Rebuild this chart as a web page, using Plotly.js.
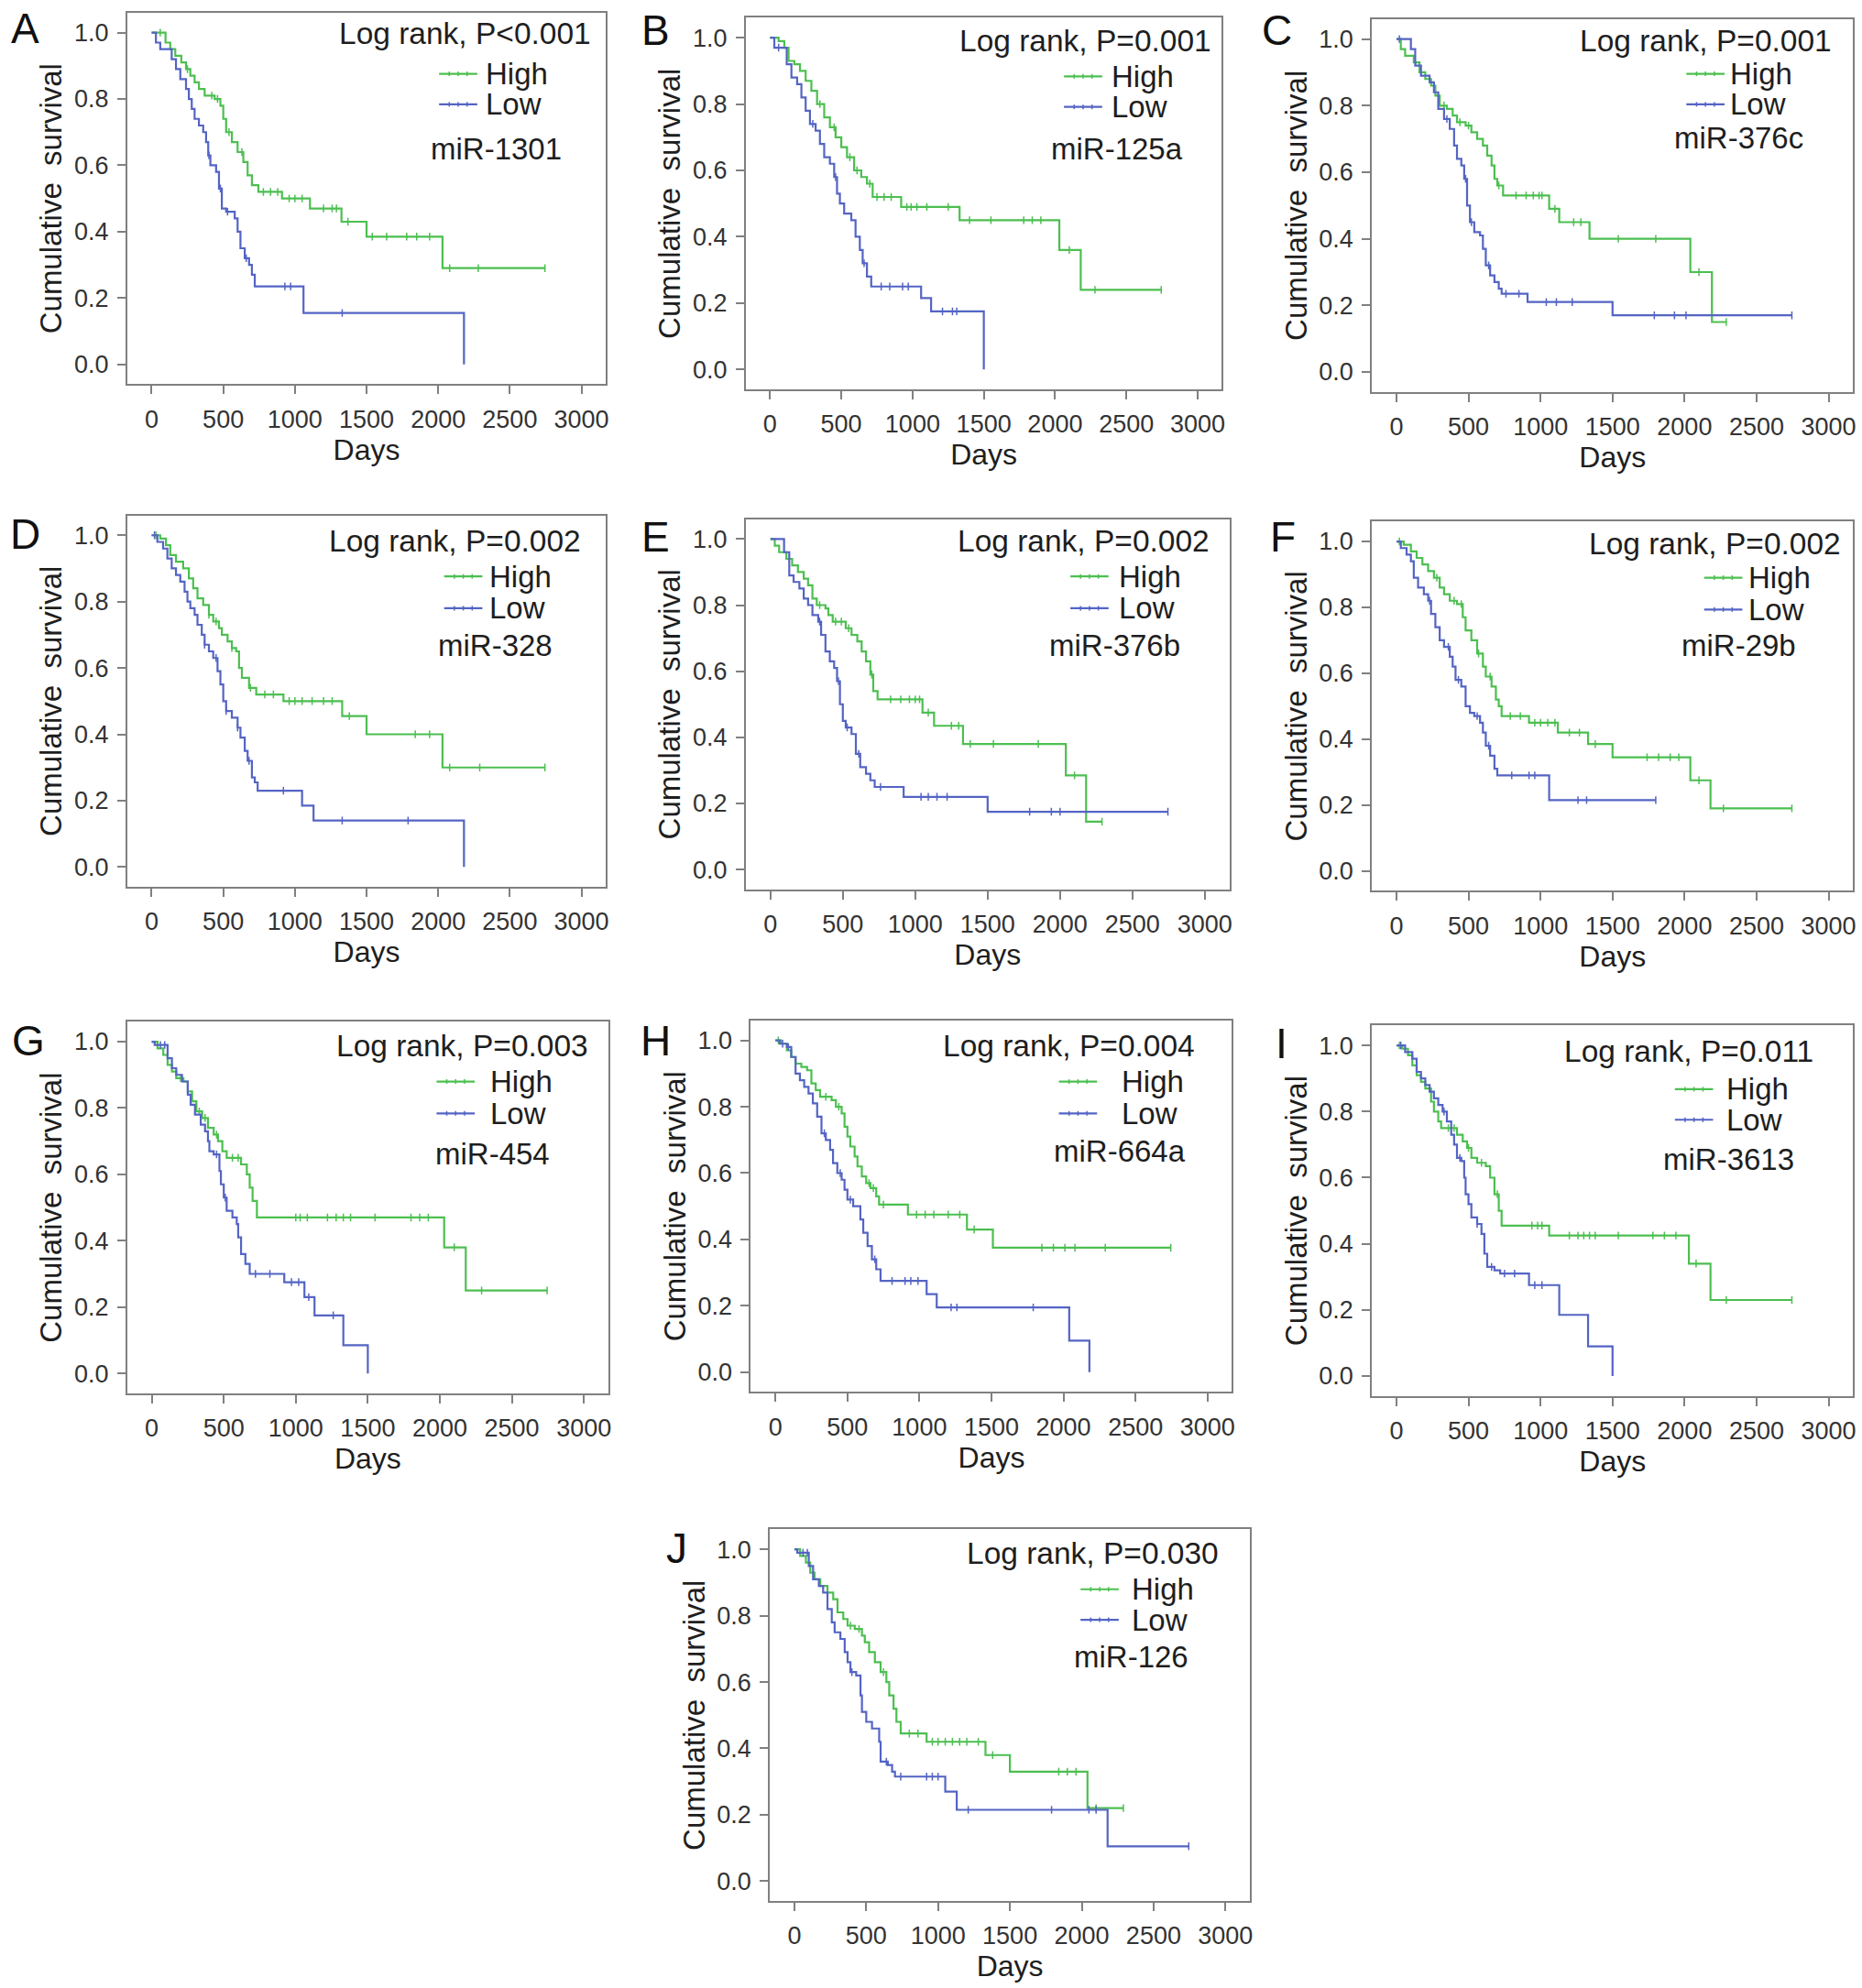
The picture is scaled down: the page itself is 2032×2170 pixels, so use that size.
<!DOCTYPE html>
<html>
<head>
<meta charset="utf-8">
<script src="https://cdn.plot.ly/plotly-3.0.1.min.js"></script>
<style>html,body{margin:0;padding:0;background:#fff;}#chart{width:2032px;height:2170px;}</style>
</head>
<body>
<div id="chart"></div>
<script>
// ---------------- DATA ----------------
const panelLetters = ['A','B','C','D','E','F','G','H','I','J'];
const pTexts = ['Log rank, P<0.001','Log rank, P=0.001','Log rank, P=0.001','Log rank, P=0.002','Log rank, P=0.002','Log rank, P=0.002','Log rank, P=0.003','Log rank, P=0.004','Log rank, P=0.011','Log rank, P=0.030'];
const mirNames = ['miR-1301','miR-125a','miR-376c','miR-328','miR-376b','miR-29b','miR-454','miR-664a','miR-3613','miR-126'];
const groupNames = ['High','Low'];
const xTickVals = [0,500,1000,1500,2000,2500,3000];
const yTickVals = [0.0,0.2,0.4,0.6,0.8,1.0];

// A: miR-1301
const A_high_t = [0,97,130,165,207,240,270,300,330,370,440,480,500,520,560,600,640,670,700,745,910,1105,1325,1500,2030,2745];
const A_high_s = [1,0.97,0.95,0.93,0.91,0.89,0.87,0.85,0.83,0.81,0.80,0.78,0.74,0.70,0.67,0.64,0.61,0.57,0.54,0.52,0.50,0.47,0.43,0.385,0.29,0.29];
const A_high_c = [60,250,420,460,540,630,780,830,880,960,1000,1050,1200,1260,1290,1370,1540,1640,1780,1850,1940,2080,2280,2745];
const A_low_t = [0,30,60,140,170,200,240,260,280,300,330,360,380,395,410,450,470,490,520,580,600,620,650,680,700,720,1060,2180];
const A_low_s = [1,0.97,0.95,0.92,0.89,0.86,0.83,0.80,0.77,0.74,0.72,0.70,0.67,0.63,0.60,0.58,0.53,0.47,0.46,0.44,0.40,0.35,0.32,0.30,0.27,0.235,0.155,0];
const A_low_c = [400,480,530,660,930,970,1330];

// B: miR-125a
const B_high_t = [0,60,100,130,170,210,250,290,330,380,420,460,500,540,590,640,680,720,920,1330,2030,2180,2745];
const B_high_s = [1,0.99,0.97,0.93,0.92,0.90,0.87,0.84,0.80,0.76,0.73,0.70,0.67,0.64,0.60,0.58,0.56,0.52,0.49,0.45,0.36,0.24,0.24];
const B_high_c = [350,450,560,610,700,750,800,850,960,990,1030,1100,1250,1400,1550,1780,1840,1900,2100,2280,2745];
const B_low_t = [0,30,117,150,190,220,250,280,320,350,380,420,450,470,490,520,570,600,630,650,680,710,1060,1130,1500];
const B_low_s = [1,0.97,0.92,0.88,0.86,0.82,0.78,0.74,0.72,0.68,0.64,0.62,0.58,0.53,0.50,0.47,0.45,0.40,0.36,0.32,0.28,0.25,0.215,0.175,0];
const B_low_c = [60,300,460,660,780,840,930,970,1210,1280,1310];

// C: miR-376c
const C_high_t = [0,30,60,120,160,200,240,270,300,350,390,420,480,520,560,600,630,660,680,700,740,1060,1130,1340,2040,2190,2290];
const C_high_s = [1,0.97,0.95,0.93,0.90,0.88,0.86,0.83,0.80,0.79,0.77,0.75,0.74,0.72,0.70,0.68,0.65,0.62,0.58,0.56,0.53,0.49,0.45,0.40,0.30,0.15,0.15];
const C_high_c = [330,440,500,710,830,900,950,990,1010,1100,1230,1280,1540,1800,2100,2290];
const C_low_t = [0,100,130,170,230,260,290,330,370,400,420,450,470,490,510,540,580,600,620,650,680,710,730,910,1500,2745];
const C_low_s = [1,0.97,0.92,0.89,0.87,0.84,0.79,0.76,0.73,0.68,0.64,0.62,0.58,0.50,0.45,0.42,0.41,0.37,0.32,0.29,0.27,0.25,0.235,0.21,0.17,0.17];
const C_low_c = [20,350,480,520,640,760,850,1040,1110,1220,1790,1930,2010,2745];

// D: miR-328
const D_high_t = [0,60,100,130,170,220,260,290,320,360,400,430,470,490,530,560,590,610,630,680,730,920,1330,1500,2030,2745];
const D_high_s = [1,0.99,0.97,0.94,0.92,0.90,0.87,0.84,0.81,0.79,0.76,0.74,0.72,0.70,0.68,0.66,0.65,0.60,0.57,0.54,0.52,0.50,0.455,0.40,0.30,0.30];
const D_high_c = [30,400,450,560,690,790,850,960,1000,1050,1120,1200,1260,1380,1840,1940,2080,2290,2745];
const D_low_t = [0,40,80,110,140,170,200,230,250,270,300,320,350,370,400,430,460,480,500,520,560,600,620,650,670,700,720,740,1050,1130,2180];
const D_low_s = [1,0.98,0.96,0.93,0.90,0.88,0.86,0.83,0.80,0.78,0.76,0.73,0.70,0.67,0.65,0.63,0.59,0.55,0.50,0.47,0.45,0.42,0.39,0.35,0.32,0.27,0.255,0.23,0.185,0.14,0];
const D_low_c = [20,370,450,520,600,680,920,1330,1790];

// E: miR-376b
const E_high_t = [0,30,60,110,150,190,230,260,290,320,380,400,430,520,560,600,630,660,690,710,740,1050,1130,1330,2040,2180,2290];
const E_high_s = [1,0.98,0.96,0.94,0.92,0.90,0.88,0.86,0.82,0.80,0.79,0.77,0.75,0.73,0.71,0.69,0.66,0.63,0.59,0.54,0.515,0.475,0.435,0.38,0.285,0.145,0.145];
const E_high_c = [340,450,490,540,700,830,900,960,1000,1030,1090,1250,1300,1380,1540,1850,2100,2290];
const E_low_t = [0,94,130,160,200,230,260,290,330,350,380,410,440,460,480,500,520,560,590,620,660,690,720,920,1500,2745];
const E_low_s = [1,0.96,0.89,0.87,0.85,0.82,0.80,0.77,0.75,0.71,0.66,0.63,0.61,0.57,0.50,0.45,0.43,0.41,0.35,0.31,0.29,0.27,0.25,0.22,0.175,0.175];
const E_low_c = [340,470,530,610,760,1040,1090,1150,1220,1790,1940,2000,2745];

// F: miR-29b
const F_high_t = [0,50,100,140,180,220,260,300,330,370,420,460,480,520,560,600,620,660,690,710,730,920,1120,1330,1500,2040,2180,2745];
const F_high_s = [1,0.99,0.97,0.95,0.93,0.91,0.89,0.86,0.84,0.82,0.81,0.77,0.73,0.70,0.66,0.62,0.59,0.56,0.52,0.50,0.47,0.45,0.42,0.385,0.345,0.275,0.19,0.19];
const F_high_c = [20,280,400,450,570,650,790,860,960,1000,1050,1100,1200,1270,1380,1740,1820,1900,1960,2100,2270,2745];
const F_low_t = [0,30,70,100,120,150,190,220,240,270,300,330,370,390,410,450,480,510,540,580,600,620,650,680,700,1060,1800];
const F_low_s = [1,0.98,0.96,0.94,0.89,0.86,0.84,0.82,0.78,0.74,0.70,0.68,0.65,0.62,0.58,0.56,0.50,0.48,0.47,0.45,0.42,0.38,0.35,0.31,0.29,0.215,0.215];
const F_low_c = [230,360,430,560,640,800,920,960,1260,1320,1800];

// G: miR-454
const G_high_t = [0,40,80,110,140,170,220,250,280,310,350,390,430,460,490,520,620,660,680,700,730,2030,2180,2745];
const G_high_s = [1,0.98,0.96,0.93,0.91,0.89,0.88,0.85,0.82,0.79,0.77,0.74,0.72,0.70,0.67,0.65,0.63,0.60,0.56,0.52,0.47,0.38,0.25,0.25];
const G_high_c = [200,330,370,450,560,600,1000,1030,1080,1220,1280,1330,1380,1550,1800,1860,1920,2100,2290,2745];
const G_low_t = [0,20,110,140,170,210,250,270,300,340,370,390,400,430,470,480,500,520,560,590,600,620,650,680,920,1060,1130,1330,1500];
const G_low_s = [1,0.99,0.95,0.92,0.90,0.88,0.84,0.81,0.78,0.75,0.73,0.70,0.67,0.66,0.61,0.57,0.53,0.49,0.47,0.45,0.41,0.36,0.33,0.30,0.275,0.23,0.175,0.085,0];
const G_low_c = [60,90,450,510,720,820,970,1020,1090,1260];

// H: miR-664a
const H_high_t = [0,40,80,110,140,180,220,250,280,310,390,420,460,480,500,520,550,570,600,630,660,700,720,920,1330,1510,2745];
const H_high_s = [1,0.99,0.97,0.95,0.93,0.92,0.91,0.87,0.85,0.83,0.82,0.80,0.78,0.74,0.71,0.68,0.65,0.62,0.59,0.57,0.555,0.53,0.505,0.475,0.43,0.375,0.375];
const H_high_c = [20,350,440,650,680,750,980,1040,1100,1200,1280,1380,1850,1930,2010,2080,2290,2745];
const H_low_t = [0,30,80,110,140,170,200,230,260,290,320,350,380,400,430,460,480,500,540,590,610,640,670,700,730,1050,1120,2040,2180];
const H_low_s = [1,0.99,0.98,0.95,0.90,0.88,0.86,0.84,0.81,0.77,0.72,0.70,0.67,0.63,0.60,0.58,0.55,0.52,0.50,0.46,0.42,0.38,0.34,0.31,0.275,0.235,0.195,0.095,0];
const H_low_c = [50,90,340,450,520,690,810,900,940,990,1220,1260,1790];

// I: miR-3613
const I_high_t = [0,40,80,110,140,170,200,240,260,290,310,420,460,490,520,560,620,650,680,710,730,1060,2030,2180,2745];
const I_high_s = [1,0.99,0.97,0.94,0.91,0.89,0.87,0.83,0.80,0.77,0.75,0.73,0.71,0.69,0.66,0.645,0.635,0.60,0.55,0.50,0.455,0.425,0.34,0.23,0.23];
const I_high_c = [20,360,400,500,590,700,940,980,1010,1200,1260,1300,1340,1380,1540,1780,1860,1940,2080,2290,2745];
const I_low_t = [0,60,110,140,170,200,230,260,290,320,350,380,400,420,450,470,480,500,520,560,590,610,630,680,720,920,1130,1330,1500];
const I_low_s = [1,0.98,0.96,0.92,0.90,0.88,0.86,0.84,0.82,0.80,0.77,0.73,0.70,0.66,0.65,0.60,0.55,0.52,0.48,0.46,0.43,0.37,0.33,0.32,0.31,0.275,0.185,0.09,0];
const I_low_c = [30,330,440,560,660,750,820,960,1010];

// J: miR-126
const J_high_t = [0,40,80,110,140,180,230,270,300,340,370,420,470,490,520,560,600,640,660,690,710,740,920,1330,1500,2040,2290];
const J_high_s = [1,0.98,0.96,0.93,0.91,0.89,0.87,0.85,0.81,0.79,0.77,0.76,0.74,0.72,0.69,0.66,0.63,0.60,0.56,0.52,0.48,0.445,0.42,0.38,0.33,0.22,0.22];
const J_high_c = [390,450,620,800,860,960,1000,1050,1100,1150,1200,1280,1380,1840,1900,1960,2100,2290];
const J_low_t = [0,20,100,130,170,200,230,260,280,320,350,370,390,430,460,470,500,540,590,600,650,680,700,1050,1130,2180,2745];
const J_low_s = [1,0.99,0.95,0.91,0.89,0.87,0.82,0.78,0.75,0.73,0.69,0.66,0.63,0.62,0.56,0.51,0.48,0.46,0.42,0.36,0.35,0.33,0.315,0.27,0.215,0.105,0.105];
const J_low_c = [60,90,400,640,740,920,960,1000,1210,1790,2050,2100,2745];

const highT = [A_high_t,B_high_t,C_high_t,D_high_t,E_high_t,F_high_t,G_high_t,H_high_t,I_high_t,J_high_t];
const highS = [A_high_s,B_high_s,C_high_s,D_high_s,E_high_s,F_high_s,G_high_s,H_high_s,I_high_s,J_high_s];
const highC = [A_high_c,B_high_c,C_high_c,D_high_c,E_high_c,F_high_c,G_high_c,H_high_c,I_high_c,J_high_c];
const lowT = [A_low_t,B_low_t,C_low_t,D_low_t,E_low_t,F_low_t,G_low_t,H_low_t,I_low_t,J_low_t];
const lowS = [A_low_s,B_low_s,C_low_s,D_low_s,E_low_s,F_low_s,G_low_s,H_low_s,I_low_s,J_low_s];
const lowC = [A_low_c,B_low_c,C_low_c,D_low_c,E_low_c,F_low_c,G_low_c,H_low_c,I_low_c,J_low_c];

// ---------------- LAYOUT (positions in a 1463-wide reference frame) ----------------
const W = 2032, H = 2170, S = 2032/1463;
const boxes = [[100,476,10,302],[586,960,14,306],[1078,1456,15,308],
               [100,476,405,697],[586,966,408,699],[1078,1456,410,700],
               [100,478,803,1095],[590,968,802,1094],[1078,1456,806,1097],
               [605,982,1202,1494]];
const letterPos = [[20,22],[515,24],[1003,24],[20,420],[515,422],[1008,422],[22,818],[515,818],[1007,820],[532,1217]];
const lrPos = [[466,26],[953,32],[1441,32],[458,425],[952,425],[1448,427],[464,822],[940,822],[1426,826],[959,1221]];
const legPos = [[345,58,82,380],[836,60,84,872],[1325,58,82,1358],[349,453,478,383],[841,453,478,878],
                [1339,454,479,1372],[343,850,875,384],[832,850,875,880],[1316,856,880,1355],[849,1249,1273,888]];
const mirPos = [[390,117],[878,117],[1366,108],[389,507],[876,507],[1366,507],[387,907],[880,905],[1358,911],[889,1302]];

const GREEN = '#4cbf50', BLUE = '#5464c4', AXC = '#808080', TXT = '#1e1e1e';
const FONT = 'Liberation Sans, Arial, Helvetica, sans-serif';
const px = x => x*S/W;
const py = y => 1 - y*S/H;

function stepAt(t, s, c){ let v = s[0]; for (let i=0;i<t.length;i++){ if (t[i] <= c) v = s[i]; } return v; }

const data = [];
const layout = {
  width: W, height: H, margin:{l:0,r:0,t:0,b:0}, showlegend:false,
  paper_bgcolor:'#ffffff', plot_bgcolor:'#ffffff',
  font:{family:FONT, color:TXT},
  annotations:[], shapes:[]
};

for (let i=0;i<10;i++){
  const k = i===0 ? '' : String(i+1);
  const [L,R,T,B] = boxes[i];
  layout['xaxis'+k] = {
    domain:[px(L), px(R)], anchor:'y'+k, range:[-170,3170],
    tickvals:xTickVals, ticks:'outside', ticklen:9, tickwidth:2, tickcolor:AXC,
    showline:true, mirror:true, linecolor:AXC, linewidth:2, showgrid:false, zeroline:false,
    tickfont:{size:27, color:'#333'}, ticklabelstandoff:4,
    title:{text:'Days', font:{size:32, color:TXT}, standoff:5}, fixedrange:true
  };
  layout['yaxis'+k] = {
    domain:[py(B), py(T)], anchor:'x'+k, range:[-0.06,1.06],
    tickvals:yTickVals, tickformat:'.1f', ticks:'outside', ticklen:9, tickwidth:2, tickcolor:AXC,
    showline:true, mirror:true, linecolor:AXC, linewidth:2, showgrid:false, zeroline:false,
    tickfont:{size:27, color:'#333'}, ticklabelstandoff:4,
    title:{text:'Cumulative\u00a0 survival', font:{size:33, color:TXT}, standoff:3}, fixedrange:true
  };
  const groups = [[highT[i],highS[i],highC[i],GREEN],[lowT[i],lowS[i],lowC[i],BLUE]];
  groups.forEach((g, gi) => {
    const [t,s,c,col] = g;
    data.push({type:'scatter', mode:'lines', x:t, y:s, xaxis:'x'+k, yaxis:'y'+k,
      line:{shape:'hv', color:col, width:2.2}, name:groupNames[gi], hoverinfo:'skip'});
    data.push({type:'scatter', mode:'markers', x:c, y:c.map(v=>stepAt(t,s,v)), xaxis:'x'+k, yaxis:'y'+k,
      marker:{symbol:'line-ns', size:6, color:col, line:{color:col, width:1.5}}, name:groupNames[gi]+' censored', hoverinfo:'skip'});
  });

  layout.annotations.push({xref:'paper', yref:'paper', x:px(letterPos[i][0]), y:py(letterPos[i][1]),
    text:panelLetters[i], showarrow:false, xanchor:'center', yanchor:'middle', font:{size:46, color:'#111'}});
  layout.annotations.push({xref:'paper', yref:'paper', x:px(lrPos[i][0]), y:py(lrPos[i][1]),
    text:pTexts[i], showarrow:false, xanchor:'right', yanchor:'middle', font:{size:33.5, color:TXT}});
  const [lx, yh, yl, tx] = legPos[i];
  [[yh,GREEN,groupNames[0]],[yl,BLUE,groupNames[1]]].forEach(([yy,col,name]) => {
    layout.shapes.push({type:'line', xref:'paper', yref:'paper', x0:px(lx), x1:px(lx+30), y0:py(yy), y1:py(yy),
      line:{color:col, width:2.2}});
    [8,15,22].forEach(d => layout.shapes.push({type:'line', xref:'paper', yref:'paper',
      x0:px(lx+d), x1:px(lx+d), y0:py(yy-1.8), y1:py(yy+1.8), line:{color:col, width:1.5}}));
    layout.annotations.push({xref:'paper', yref:'paper', x:px(tx), y:py(yy), text:name, showarrow:false,
      xanchor:'left', yanchor:'middle', font:{size:33, color:TXT}});
  });
  layout.annotations.push({xref:'paper', yref:'paper', x:px(mirPos[i][0]), y:py(mirPos[i][1]),
    text:mirNames[i], showarrow:false, xanchor:'center', yanchor:'middle', font:{size:33, color:TXT}});
}

Plotly.newPlot('chart', data, layout, {staticPlot:true, displayModeBar:false});
</script>
</body>
</html>
